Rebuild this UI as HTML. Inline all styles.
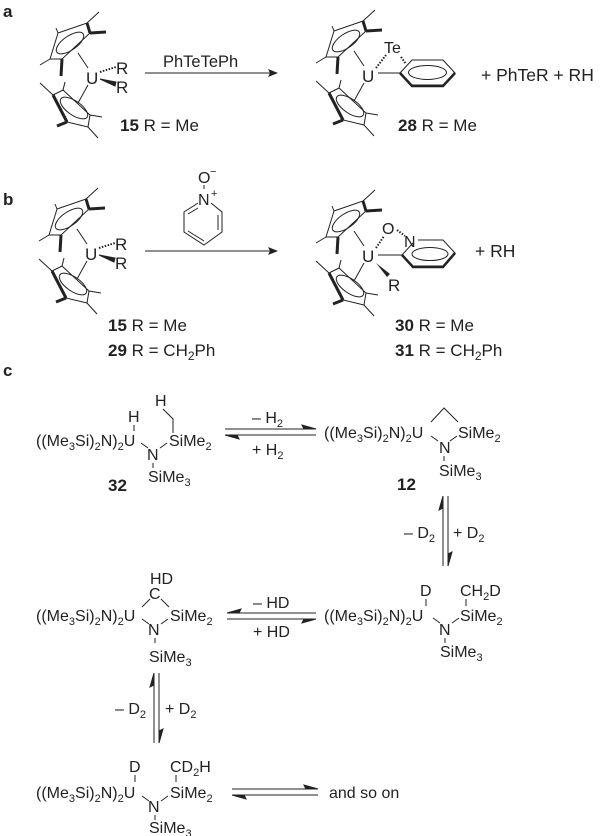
<!DOCTYPE html>
<html><head><meta charset="utf-8"><style>
html,body{margin:0;padding:0;background:#fff}
svg{display:block}
text{font-family:"Liberation Sans",sans-serif;fill:#222}
.b{font-weight:bold}
</style></head><body>
<svg width="600" height="836" viewBox="0 0 600 836" xmlns="http://www.w3.org/2000/svg">
<defs>
<g id="cp" stroke="#222" fill="none" stroke-width="1">
  <polygon points="58,33 87,23 90,33 62,59 50,59"/>
  <ellipse cx="70" cy="43" rx="16" ry="7" transform="rotate(-35 70 43)"/>
  <line x1="87" y1="23" x2="99" y2="12"/>
  <line x1="90" y1="33" x2="106" y2="32" stroke-width="3"/>
  <line x1="62" y1="59" x2="61" y2="76" stroke-width="3"/>
  <line x1="50" y1="59" x2="40" y2="65"/>
  <line x1="58" y1="33" x2="56" y2="28"/>
  <line x1="87" y1="23" x2="90" y2="33" stroke-width="3"/>
  <line x1="78" y1="53" x2="88" y2="68"/>
  <polygon points="53,95 63,90 90,115 88,127 67,122"/>
  <ellipse cx="74" cy="108" rx="16" ry="7" transform="rotate(35 74 108)"/>
  <line x1="53" y1="95" x2="40" y2="83"/>
  <line x1="63" y1="90" x2="65" y2="82"/>
  <line x1="90" y1="115" x2="102" y2="117"/>
  <line x1="88" y1="127" x2="98" y2="138"/>
  <line x1="67" y1="122" x2="57" y2="126" stroke-width="3"/>
  <line x1="53" y1="95" x2="67" y2="122" stroke-width="3"/>
  <line x1="88" y1="85" x2="78" y2="103"/>
</g>
<g id="rr" stroke="#222">
  <line x1="100" y1="72" x2="116" y2="67" stroke-width="2" stroke-dasharray="1.5,1.5"/>
  <polygon points="100,79 116,82 115,86" fill="#222"/>
</g>
<marker id="ah" markerWidth="10" markerHeight="8" refX="9" refY="4" orient="auto" markerUnits="userSpaceOnUse"><path d="M0,0 L10,4 L0,8 L2,4z" fill="#222"/></marker>
</defs>

<!-- a -->
<text x="3" y="17" class="b" font-size="17">a</text>
<use href="#cp"/>
<text x="86" y="84" font-size="17">U</text>
<use href="#rr"/>
<text x="116" y="74" font-size="17">R</text>
<text x="116" y="93" font-size="17">R</text>
<text x="120" y="131" font-size="17"><tspan class="b">15</tspan> R = Me</text>
<line x1="145" y1="73" x2="277" y2="73" stroke="#222" marker-end="url(#ah)"/>
<text x="163" y="67" font-size="16.5">PhTeTePh</text>

<g transform="translate(276,-2)"><use href="#cp"/></g>
<text x="362" y="82" font-size="17">U</text>
<text x="384" y="53" font-size="16">Te</text>
<line x1="376" y1="68" x2="386" y2="55" stroke="#222" stroke-width="2" stroke-dasharray="1.5,1.5"/>
<line x1="401" y1="57" x2="406" y2="64" stroke="#222" stroke-width="2" stroke-dasharray="1.5,1.5"/>
<line x1="378" y1="73" x2="400" y2="73" stroke="#222"/>
<polygon points="400,73 412,60 443,60 455,73 443,85 412,85" fill="none" stroke="#222"/>
<path d="M400,73 L412,86 L443,86 L455,73" fill="none" stroke="#222" stroke-width="2.5"/>
<ellipse cx="427.5" cy="72.5" rx="19" ry="7" fill="none" stroke="#222"/>
<text x="481" y="81" font-size="17.5">+  PhTeR  +  RH</text>
<text x="398" y="131" font-size="17"><tspan class="b">28</tspan> R = Me</text>

<!-- b -->
<text x="3" y="205" class="b" font-size="17">b</text>
<g transform="translate(-1,176)"><use href="#cp"/><use href="#rr"/></g>
<text x="85" y="260" font-size="17">U</text>
<text x="115" y="250" font-size="17">R</text>
<text x="115" y="269" font-size="17">R</text>
<text x="108" y="331" font-size="17"><tspan class="b">15</tspan> R = Me</text>
<text x="108" y="356" font-size="17"><tspan class="b">29</tspan> R = CH<tspan font-size="12" dy="4">2</tspan><tspan dy="-4">Ph</tspan></text>
<line x1="145" y1="251" x2="277" y2="251" stroke="#222" marker-end="url(#ah)"/>
<text x="198" y="183" font-size="16">O</text>
<text x="210" y="175" font-size="11">−</text>
<line x1="204" y1="185" x2="204" y2="189" stroke="#222"/>
<text x="198" y="205" font-size="16">N</text>
<text x="211" y="197" font-size="11">+</text>
<g stroke="#222" fill="none">
<path d="M198,203 L184,212 L184,232 L204,245 L222,232 L222,212 L211,203"/>
<line x1="188" y1="214" x2="198" y2="208"/>
<line x1="218" y1="215" x2="218" y2="230"/>
<line x1="188" y1="231" x2="204" y2="241"/>
</g>

<g transform="translate(276,178)"><use href="#cp"/></g>
<text x="362" y="262" font-size="17">U</text>
<text x="382" y="234" font-size="16">O</text>
<text x="404" y="247" font-size="16">N</text>
<line x1="376" y1="248" x2="384" y2="236" stroke="#222" stroke-width="2" stroke-dasharray="1.5,1.5"/>
<line x1="397" y1="230" x2="405" y2="236" stroke="#222" stroke-width="2" stroke-dasharray="1.5,1.5"/>
<line x1="378" y1="255" x2="402" y2="255" stroke="#222"/>
<polyline points="402,255 413,243" fill="none" stroke="#222"/>
<path d="M418,240 L443,240 L455,253 L443,266 L413,266 L402,255" fill="none" stroke="#222"/>
<path d="M402,255 L413,267 L443,267 L455,253" fill="none" stroke="#222" stroke-width="2.5"/>
<ellipse cx="430" cy="254" rx="18" ry="6.5" fill="none" stroke="#222"/>
<polygon points="376,263 390,274 387,277" fill="#222"/>
<text x="388" y="291" font-size="17">R</text>
<text x="475" y="257" font-size="17.5">+  RH</text>
<text x="395" y="331" font-size="17"><tspan class="b">30</tspan> R = Me</text>
<text x="395" y="356" font-size="17"><tspan class="b">31</tspan> R = CH<tspan font-size="12" dy="4">2</tspan><tspan dy="-4">Ph</tspan></text>

<!-- c -->
<text x="3" y="376" class="b" font-size="17">c</text>
<g font-size="16">
<!-- 32 -->
<text x="36" y="446">((Me<tspan font-size="11" dy="4">3</tspan><tspan dy="-4">Si)</tspan><tspan font-size="11" dy="4">2</tspan><tspan dy="-4">N)</tspan><tspan font-size="11" dy="4">2</tspan><tspan dy="-4">U</tspan></text>
<text x="128" y="422">H</text>
<line x1="134" y1="425" x2="134" y2="431" stroke="#222"/>
<text x="155" y="406">H</text>
<polyline points="163,409 173,419 173,433" fill="none" stroke="#222"/>
<line x1="141" y1="443" x2="148" y2="448" stroke="#222"/>
<text x="147" y="460">N</text>
<line x1="160" y1="448" x2="167" y2="443" stroke="#222"/>
<text x="169" y="446">SiMe<tspan font-size="11" dy="4">2</tspan></text>
<line x1="153" y1="463" x2="153" y2="468" stroke="#222"/>
<text x="148" y="482">SiMe<tspan font-size="11" dy="4">3</tspan></text>
<text x="108" y="491" class="b" font-size="17">32</text>
<g stroke="#222" fill="#222">
<line x1="225" y1="429" x2="316" y2="429"/><path d="M316,429 L302,425 L304,429z"/>
<line x1="225" y1="435" x2="316" y2="435"/><path d="M225,435 L239,439 L237,435z"/>
</g>
<text x="252" y="423">– H<tspan font-size="11" dy="4">2</tspan></text>
<text x="252" y="455">+ H<tspan font-size="11" dy="4">2</tspan></text>
<!-- 12 -->
<text x="324" y="438">((Me<tspan font-size="11" dy="4">3</tspan><tspan dy="-4">Si)</tspan><tspan font-size="11" dy="4">2</tspan><tspan dy="-4">N)</tspan><tspan font-size="11" dy="4">2</tspan><tspan dy="-4">U</tspan></text>
<polyline points="431,422 444,408 458,422" fill="none" stroke="#222"/>
<line x1="431" y1="436" x2="438" y2="441" stroke="#222"/>
<text x="439" y="453">N</text>
<line x1="450" y1="441" x2="457" y2="436" stroke="#222"/>
<text x="458" y="438">SiMe<tspan font-size="11" dy="4">2</tspan></text>
<line x1="444" y1="456" x2="444" y2="461" stroke="#222"/>
<text x="439" y="476">SiMe<tspan font-size="11" dy="4">3</tspan></text>
<text x="397" y="490" class="b" font-size="17">12</text>
<g stroke="#222" fill="#222">
<line x1="443" y1="496" x2="443" y2="566"/><path d="M443,496 L439,510 L443,508z"/>
<line x1="448" y1="496" x2="448" y2="566"/><path d="M448,566 L452,552 L448,554z"/>
</g>
<text x="404" y="538">– D<tspan font-size="11" dy="4">2</tspan></text>
<text x="453" y="538">+ D<tspan font-size="11" dy="4">2</tspan></text>
<!-- row2 right -->
<text x="324" y="621">((Me<tspan font-size="11" dy="4">3</tspan><tspan dy="-4">Si)</tspan><tspan font-size="11" dy="4">2</tspan><tspan dy="-4">N)</tspan><tspan font-size="11" dy="4">2</tspan><tspan dy="-4">U</tspan></text>
<text x="420" y="596">D</text>
<line x1="426" y1="599" x2="426" y2="606" stroke="#222"/>
<text x="460" y="596">CH<tspan font-size="11" dy="4">2</tspan><tspan dy="-4">D</tspan></text>
<line x1="466" y1="599" x2="466" y2="606" stroke="#222"/>
<line x1="433" y1="618" x2="440" y2="623" stroke="#222"/>
<text x="439" y="635">N</text>
<line x1="452" y1="623" x2="459" y2="618" stroke="#222"/>
<text x="460" y="621">SiMe<tspan font-size="11" dy="4">2</tspan></text>
<line x1="445" y1="638" x2="445" y2="643" stroke="#222"/>
<text x="440" y="657">SiMe<tspan font-size="11" dy="4">3</tspan></text>
<g stroke="#222" fill="#222">
<line x1="227" y1="613" x2="316" y2="613"/><path d="M227,613 L241,609 L239,613z"/>
<line x1="227" y1="619" x2="316" y2="619"/><path d="M316,619 L302,623 L304,619z"/>
</g>
<text x="253" y="608">– HD</text>
<text x="253" y="637">+ HD</text>
<!-- row2 left -->
<text x="36" y="621">((Me<tspan font-size="11" dy="4">3</tspan><tspan dy="-4">Si)</tspan><tspan font-size="11" dy="4">2</tspan><tspan dy="-4">N)</tspan><tspan font-size="11" dy="4">2</tspan><tspan dy="-4">U</tspan></text>
<text x="150" y="584">HD</text>
<text x="149" y="599">C</text>
<line x1="142" y1="607" x2="150" y2="599" stroke="#222"/>
<line x1="161" y1="599" x2="169" y2="607" stroke="#222"/>
<line x1="142" y1="619" x2="149" y2="624" stroke="#222"/>
<text x="148" y="635">N</text>
<line x1="161" y1="624" x2="168" y2="619" stroke="#222"/>
<text x="170" y="621">SiMe<tspan font-size="11" dy="4">2</tspan></text>
<line x1="155" y1="638" x2="155" y2="643" stroke="#222"/>
<text x="149" y="662">SiMe<tspan font-size="11" dy="4">3</tspan></text>
<g stroke="#222" fill="#222">
<line x1="154" y1="673" x2="154" y2="743"/><path d="M154,673 L150,687 L154,685z"/>
<line x1="159" y1="673" x2="159" y2="743"/><path d="M159,743 L163,729 L159,731z"/>
</g>
<text x="115" y="714">– D<tspan font-size="11" dy="4">2</tspan></text>
<text x="165" y="714">+ D<tspan font-size="11" dy="4">2</tspan></text>
<!-- row3 -->
<text x="36" y="798">((Me<tspan font-size="11" dy="4">3</tspan><tspan dy="-4">Si)</tspan><tspan font-size="11" dy="4">2</tspan><tspan dy="-4">N)</tspan><tspan font-size="11" dy="4">2</tspan><tspan dy="-4">U</tspan></text>
<text x="129" y="772">D</text>
<line x1="135" y1="775" x2="135" y2="782" stroke="#222"/>
<text x="170" y="772">CD<tspan font-size="11" dy="4">2</tspan><tspan dy="-4">H</tspan></text>
<line x1="176" y1="775" x2="176" y2="782" stroke="#222"/>
<line x1="142" y1="796" x2="149" y2="801" stroke="#222"/>
<text x="148" y="812">N</text>
<line x1="161" y1="801" x2="168" y2="796" stroke="#222"/>
<text x="170" y="798">SiMe<tspan font-size="11" dy="4">2</tspan></text>
<line x1="155" y1="815" x2="155" y2="820" stroke="#222"/>
<text x="149" y="833">SiMe<tspan font-size="11" dy="4">3</tspan></text>
<g stroke="#222" fill="#222">
<line x1="232" y1="789" x2="318" y2="789"/><path d="M318,789 L304,785 L306,789z"/>
<line x1="232" y1="795" x2="318" y2="795"/><path d="M232,795 L246,799 L244,795z"/>
</g>
<text x="329" y="798">and so on</text>
</g>
</svg>
</body></html>
